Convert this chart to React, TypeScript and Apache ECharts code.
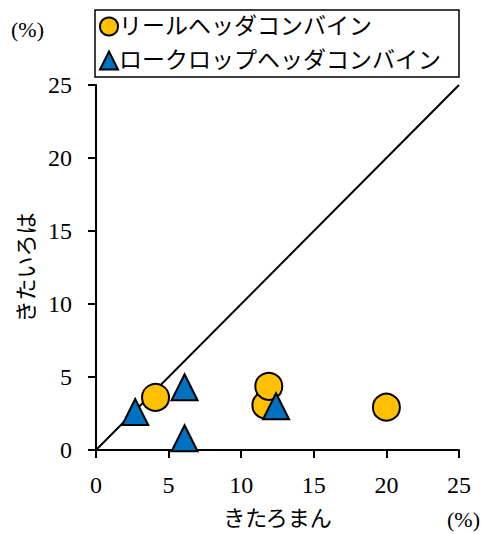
import React, { useEffect, useRef } from "react";
import * as echarts from "echarts";

const seriesNames = ["リールヘッダコンバイン", "ロークロップヘッダコンバイン"];
const reelHeader: [number, number][] = [
  [4.1, 3.6],
  [11.7, 3.07],
  [11.9, 4.36],
  [20.0, 2.93],
];
const rowCropHeader: [number, number][] = [
  [2.7, 2.6],
  [6.1, 4.3],
  [6.1, 0.8],
  [12.4, 3.0],
];
const diagonal: [number, number][] = [
  [0, 0],
  [25, 25],
];
const xName = "きたろまん";
const yName = "きたいろは";
const unitLabel = "(%)";

const FONT = "'Liberation Serif', 'Noto Sans CJK JP', serif";

export default function App() {
  const ref = useRef<HTMLDivElement>(null);
  useEffect(() => {
    if (!ref.current) return;
    const chart = echarts.init(ref.current, undefined, { renderer: "svg" });
    chart.setOption({
      animation: false,
      backgroundColor: "#fff",
      textStyle: { fontFamily: FONT },
      grid: { left: 96, right: 22, top: 85, bottom: 82 },
      legend: {
        orient: "vertical",
        left: 95,
        top: 10,
        padding: [5, 18, 5, 4],
        itemGap: 11,
        itemWidth: 18,
        itemHeight: 18,
        borderColor: "#000",
        borderWidth: 1.5,
        textStyle: { fontSize: 23, color: "#000", fontFamily: FONT, padding: [0, 0, 0, -4] },
        data: [
          { name: seriesNames[0], icon: "circle" },
          { name: seriesNames[1], icon: "triangle" },
        ],
      },
      xAxis: {
        type: "value",
        min: 0,
        max: 25,
        interval: 5,
        name: xName,
        nameLocation: "middle",
        nameGap: 57,
        nameTextStyle: { fontSize: 22, color: "#000", fontFamily: FONT },
        axisLine: { lineStyle: { color: "#000", width: 2 } },
        axisTick: { show: true, length: 8, lineStyle: { color: "#000", width: 2 } },
        axisLabel: { fontSize: 24, color: "#000", margin: 23, fontFamily: FONT },
        splitLine: { show: false },
      },
      yAxis: {
        type: "value",
        min: 0,
        max: 25,
        interval: 5,
        name: yName,
        nameLocation: "middle",
        nameRotate: 90,
        nameGap: 57,
        nameTextStyle: { fontSize: 22, color: "#000", fontFamily: FONT },
        axisLine: { show: true, lineStyle: { color: "#000", width: 2 } },
        axisTick: { show: true, length: 8, lineStyle: { color: "#000", width: 2 } },
        axisLabel: { fontSize: 24, color: "#000", margin: 24, fontFamily: FONT },
        splitLine: { show: false },
      },
      graphic: [
        {
          type: "text",
          left: 11,
          top: 18,
          style: { text: unitLabel, fontSize: 22, fill: "#000", fontFamily: FONT },
        },
        {
          type: "text",
          left: 447,
          top: 508,
          style: { text: unitLabel, fontSize: 22, fill: "#000", fontFamily: FONT },
        },
      ],
      series: [
        {
          type: "line",
          data: diagonal,
          symbol: "none",
          lineStyle: { color: "#000", width: 2 },
          silent: true,
          z: 1,
        },
        {
          name: seriesNames[0],
          type: "scatter",
          data: reelHeader,
          symbol: "circle",
          symbolSize: 27,
          itemStyle: { color: "#FFC000", borderColor: "#000", borderWidth: 2, opacity: 1 },
          z: 2,
        },
        {
          name: seriesNames[1],
          type: "scatter",
          data: rowCropHeader,
          symbol: "triangle",
          symbolSize: 26,
          itemStyle: { color: "#0070C0", borderColor: "#000", borderWidth: 2, opacity: 1 },
          z: 3,
        },
      ],
    });
    return () => chart.dispose();
  }, []);
  return (
    <div
      ref={ref}
      style={{ position: "absolute", left: 0, top: 0, width: 481, height: 534 }}
    />
  );
}
